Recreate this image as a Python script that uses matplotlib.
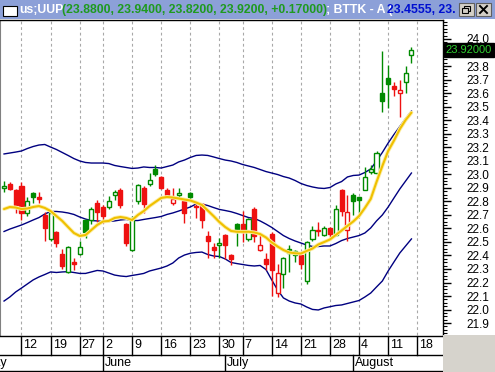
import numpy as np
import pandas as pd
import matplotlib
matplotlib.use('Agg')
import matplotlib.pyplot as plt
from matplotlib.patches import Rectangle
from matplotlib.ticker import FormatStrFormatter
from matplotlib.transforms import blended_transform_factory

plt.rcParams['font.family'] = ['Liberation Sans', 'DejaVu Sans']

# ---------------- data ----------------
symbol = "us;UUP"
indicator_name = "BTTK - A"
holidays = ['2008-05-26', '2008-07-04']
axis_start, axis_end = '2008-05-01', '2008-08-22'
data_start = '2008-05-07'

opens = [22.90, 22.93, 22.88, 22.91, 22.71, 22.86, 22.83, 22.70, 22.52, 22.57,
         22.41, 22.28, 22.35, 22.41, 22.66, 22.66, 22.79, 22.76, 22.76, 22.85,
         22.88, 22.63, 22.44, 22.80, 22.90, 22.93, 23.04, 22.98, 22.88, 22.79,
         22.85, 22.80, 22.86, 22.765, 22.78, 22.54, 22.46, 22.48, 22.55, 22.40,
         22.63, 22.63, 22.52, 22.74, 22.44, 22.37, 22.56, 22.12, 22.26, 22.45,
         22.40, 22.40, 22.21, 22.52, 22.585, 22.55, 22.60, 22.55, 22.88, 22.59,
         22.85, 22.83, 22.88, 23.02, 23.01, 23.60, 23.71, 23.65, 23.60, 23.68, 23.88]
highs = [22.95, 22.94, 22.89, 22.94, 22.83, 22.87, 22.87, 22.72, 22.72, 22.58,
         22.45, 22.47, 22.38, 22.51, 22.67, 22.76, 22.81, 22.77, 22.84, 22.88,
         22.90, 22.64, 22.69, 22.93, 22.91, 23.01, 23.07, 22.99, 22.90, 22.90,
         22.90, 22.82, 22.87, 22.79, 22.79, 22.58, 22.49, 22.53, 22.56, 22.41,
         22.64, 22.73, 22.68, 22.76, 22.56, 22.42, 22.57, 22.34, 22.39, 22.48,
         22.44, 22.41, 22.51, 22.62, 22.65, 22.62, 22.61, 22.77, 22.89, 22.85,
         22.86, 22.83, 23.05, 23.07, 23.17, 23.91, 23.81, 23.68, 23.70, 23.80, 23.94]
lows = [22.87, 22.88, 22.71, 22.66, 22.69, 22.79, 22.79, 22.51, 22.51, 22.46,
        22.30, 22.27, 22.29, 22.40, 22.53, 22.63, 22.65, 22.64, 22.74, 22.81,
        22.75, 22.47, 22.43, 22.78, 22.71, 22.91, 22.99, 22.89, 22.84, 22.77,
        22.83, 22.64, 22.80, 22.68, 22.60, 22.38, 22.38, 22.38, 22.37, 22.33,
        22.47, 22.50, 22.51, 22.50, 22.43, 22.29, 22.10, 22.09, 22.16, 22.28,
        22.35, 22.30, 22.19, 22.51, 22.54, 22.54, 22.53, 22.54, 22.69, 22.51,
        22.70, 22.71, 22.88, 23.00, 23.00, 23.46, 23.49, 23.58, 23.42, 23.60, 23.82]
closes = [22.91, 22.89, 22.77, 22.71, 22.80, 22.83, 22.82, 22.60, 22.71, 22.49,
          22.32, 22.46, 22.34, 22.46, 22.57, 22.74, 22.72, 22.69, 22.80, 22.87,
          22.77, 22.49, 22.67, 22.92, 22.78, 22.96, 23.00, 22.90, 22.85, 22.82,
          22.86, 22.71, 22.83, 22.76, 22.66, 22.51, 22.44, 22.49, 22.48, 22.37,
          22.59, 22.57, 22.67, 22.54, 22.48, 22.34, 22.29, 22.27, 22.38, 22.42,
          22.43, 22.34, 22.50, 22.59, 22.58, 22.60, 22.56, 22.74, 22.73, 22.72,
          22.80, 22.81, 22.98, 23.04, 23.16, 23.54, 23.67, 23.63, 23.62, 23.75, 23.92]

bttk_a = [22.743, 22.758, 22.754, 22.743, 22.747, 22.758, 22.765, 22.751, 22.728, 22.691,
          22.655, 22.610, 22.566, 22.544, 22.551, 22.588, 22.625, 22.651, 22.655, 22.677,
          22.684, 22.677, 22.662, 22.699, 22.728, 22.765, 22.795, 22.825, 22.832, 22.828,
          22.821, 22.813, 22.806, 22.791, 22.773, 22.732, 22.691, 22.647, 22.610, 22.581,
          22.575, 22.575, 22.575, 22.570, 22.558, 22.533, 22.496, 22.466, 22.440, 22.422,
          22.416, 22.414, 22.433, 22.451, 22.481, 22.499, 22.518, 22.551, 22.584, 22.618,
          22.651, 22.691, 22.751, 22.817, 22.943, 23.061, 23.172, 23.249, 23.334, 23.401, 23.4555]
band_upper = [23.150, 23.157, 23.164, 23.172, 23.190, 23.205, 23.216, 23.220, 23.201, 23.183,
              23.161, 23.139, 23.116, 23.098, 23.087, 23.083, 23.083, 23.083, 23.079, 23.065,
              23.057, 23.050, 23.043, 23.046, 23.054, 23.050, 23.050, 23.046, 23.057, 23.068,
              23.091, 23.105, 23.124, 23.139, 23.142, 23.139, 23.128, 23.116, 23.105, 23.098,
              23.087, 23.072, 23.061, 23.050, 23.035, 23.020, 23.009, 22.998, 22.983, 22.972,
              22.954, 22.932, 22.917, 22.906, 22.898, 22.895, 22.902, 22.928, 22.946, 22.980,
              22.991, 22.994, 23.013, 23.039, 23.098, 23.161, 23.231, 23.294, 23.353, 23.412, 23.467]
band_middle = [22.577, 22.595, 22.610, 22.625, 22.643, 22.662, 22.680, 22.706, 22.725, 22.725,
               22.721, 22.714, 22.703, 22.684, 22.669, 22.658, 22.655, 22.651, 22.651, 22.655,
               22.662, 22.666, 22.658, 22.658, 22.666, 22.673, 22.680, 22.688, 22.703, 22.714,
               22.728, 22.743, 22.758, 22.780, 22.780, 22.769, 22.754, 22.740, 22.732, 22.723,
               22.710, 22.695, 22.680, 22.673, 22.655, 22.632, 22.607, 22.577, 22.547, 22.525,
               22.507, 22.492, 22.477, 22.466, 22.466, 22.470, 22.470, 22.488, 22.510, 22.525,
               22.536, 22.547, 22.566, 22.603, 22.655, 22.699, 22.758, 22.825, 22.891, 22.950, 23.009]
band_lower = [22.063, 22.093, 22.130, 22.159, 22.189, 22.219, 22.241, 22.259, 22.278, 22.274,
              22.278, 22.280, 22.274, 22.267, 22.267, 22.278, 22.289, 22.285, 22.270, 22.255,
              22.248, 22.244, 22.252, 22.259, 22.267, 22.285, 22.296, 22.307, 22.322, 22.344,
              22.381, 22.403, 22.416, 22.422, 22.425, 22.407, 22.396, 22.392, 22.374, 22.348,
              22.340, 22.333, 22.326, 22.322, 22.326, 22.296, 22.219, 22.145, 22.086, 22.063,
              22.049, 22.041, 22.019, 22.001, 21.997, 22.012, 22.021, 22.030, 22.034, 22.045,
              22.056, 22.067, 22.093, 22.122, 22.167, 22.211, 22.285, 22.352, 22.418, 22.470, 22.522]

price_ticks = [21.9, 22.0, 22.1, 22.2, 22.3, 22.4, 22.5, 22.6, 22.7, 22.8, 22.9,
               23.0, 23.1, 23.2, 23.3, 23.4, 23.5, 23.6, 23.7, 23.8, 23.9, 24.0]

# ---------------- dates ----------------
axis_days = pd.bdate_range(axis_start, axis_end)
axis_days = axis_days[~axis_days.isin(pd.to_datetime(holidays))]
d0 = int(np.where(axis_days == pd.Timestamp(data_start))[0][0])
n = len(closes)
xs = d0 + np.arange(n)
week_starts = [i for i in range(1, len(axis_days))
               if axis_days[i].weekday() < axis_days[i - 1].weekday()]
month_starts = [0] + [i for i in range(1, len(axis_days))
                      if axis_days[i].month != axis_days[i - 1].month]

# ---------------- figure / layout ----------------
W, H = 495, 372
fig = plt.figure(figsize=(W / 100, H / 100), dpi=100)
fig.patch.set_facecolor('white')

PLOT_R, PLOT_T, PLOT_B = 443, 20, 335
ax = fig.add_axes([0, 1 - PLOT_B / H, PLOT_R / W, (PLOT_B - PLOT_T) / H])
px_per_day = 5.82
ref_day = week_starts[1]                 # May 12 sits at pixel x = 21.5
xl = ref_day - 21.5 / px_per_day
xr = ref_day + (PLOT_R - 21.5) / px_per_day
ax.set_xlim(xl, xr)
ax.set_ylim(21.812, 24.140)

# weekly dashed grid
for w in week_starts:
    ax.axvline(w, color='#a8a8a8', lw=0.8, ls=(0, (2.5, 2.5)), zorder=1)

# bands
for band in (band_upper, band_middle, band_lower):
    ax.plot(xs, band, color='#000080', lw=1.0, zorder=2)

# candles
GREEN, RED = '#008a00', '#ee1111'
bw = 0.7
for i in range(n):
    o, h, l, c = opens[i], highs[i], lows[i], closes[i]
    prev = closes[i - 1] if i > 0 else c
    col = GREEN if c >= prev else RED
    filled = c < o
    top, bot = max(o, c), min(o, c)
    ax.vlines(xs[i], l, h, color=col, lw=1.0, zorder=3)
    ax.add_patch(Rectangle((xs[i] - bw / 2, bot), bw, max(top - bot, 0.002),
                           facecolor=col if filled else 'white', edgecolor=col,
                           lw=1.0, zorder=4))

# yellow indicator
ax.plot(xs, bttk_a, color='#fcefa8', lw=2.8, zorder=5, solid_capstyle='round')
ax.plot(xs, bttk_a, color='#f0c000', lw=1.5, zorder=6, solid_capstyle='round')

# right price axis
ax.yaxis.tick_right()
ax.set_yticks(price_ticks)
ax.set_yticks(np.arange(21.825, 24.14, 0.025), minor=True)
ax.yaxis.set_major_formatter(FormatStrFormatter('%.1f'))
ax.tick_params(axis='y', which='major', direction='out', length=6, width=1,
               labelsize=8.5, pad=11, colors='black')
ax.tick_params(axis='y', which='minor', direction='out', length=3, width=0.8)
ax.set_xticks([])
for s in ('top', 'right'):
    ax.spines[s].set_color('black')
    ax.spines[s].set_linewidth(1.0)
ax.spines['bottom'].set_visible(False)
ax.spines['left'].set_color('#808080')

# last price box
tr = blended_transform_factory(ax.transAxes, ax.transData)
ax.text(1.006, closes[-1], f"{closes[-1]:.5f}", transform=tr, ha='left', va='center',
        fontsize=8, color='#30d030', clip_on=False, zorder=10,
        bbox=dict(boxstyle='square,pad=0.18', facecolor='black', edgecolor='black'))

# ---------------- date axis ----------------
ax2 = fig.add_axes([0, 0, PLOT_R / W, (H - PLOT_B) / H])
ax2.set_xlim(xl, xr)
ax2.set_ylim(H, PLOT_B)
ax2.axis('off')
ROW1_T, ROW1_B, ROW2_B = 335.5, 354.5, 370.5
for yy in (ROW1_T, ROW1_B, ROW2_B):
    ax2.plot([xl, xr], [yy, yy], color='black', lw=1.0, clip_on=True)
for w in week_starts:
    ax2.plot([w, w], [ROW1_T, ROW1_B], color='black', lw=1.0)
    if w > xl:
        ax2.text(w + 0.35, (ROW1_T + ROW1_B) / 2 + 0.5, str(axis_days[w].day), fontsize=9,
                 ha='left', va='center', clip_on=True)
for m in month_starts:
    ax2.plot([m, m], [ROW1_B, ROW2_B], color='black', lw=1.0)
    ax2.text(m + 0.35, (ROW1_B + ROW2_B) / 2 + 0.5, axis_days[m].strftime('%B'), fontsize=9,
             ha='left', va='center', clip_on=True)

# grey corner area
fig.patches.append(Rectangle((PLOT_R / W, 0), 1 - PLOT_R / W, (H - PLOT_B) / H,
                             transform=fig.transFigure, facecolor='#d6d3cc',
                             edgecolor='none', zorder=0))

# ---------------- title bar ----------------
axt = fig.add_axes([0, 1 - 19 / H, 1, 19 / H])
axt.set_xlim(0, W)
axt.set_ylim(19, 0)
axt.axis('off')
axt.add_patch(Rectangle((0, 0), W, 19, facecolor='#8ca0d8', edgecolor='none'))
axt.add_patch(Rectangle((3, 6), 14, 10, facecolor='white', edgecolor='black', lw=0.8))
TFS = 8.8
axt.text(19, 10, symbol, color='white', fontsize=TFS, fontweight='bold', ha='left', va='center')
ohlc_txt = f"({opens[-1]:.4f}, {highs[-1]:.4f}, {lows[-1]:.4f}, {closes[-1]:.4f}, {closes[-1] - closes[-2]:+.5f})"
axt.text(62, 10, ohlc_txt, color='#1f9a1f', fontsize=TFS, fontweight='bold', ha='left', va='center')
axt.text(326, 10, f"; {indicator_name} (", color='white', fontsize=TFS, fontweight='bold',
         ha='left', va='center')
axt.text(387, 10, f"{bttk_a[-1]:.4f}, 23.", color='#0010d0', fontsize=TFS, fontweight='bold',
         ha='left', va='center', clip_on=True)
# window buttons
for bx in (459, 476):
    axt.add_patch(Rectangle((bx, 3), 15, 13, facecolor='#d4d0c8', edgecolor='#606060', lw=0.8,
                            zorder=5))
axt.add_patch(Rectangle((464, 6), 6, 5, facecolor='none', edgecolor='black', lw=0.8, zorder=6))
axt.add_patch(Rectangle((462, 8), 6, 5, facecolor='#d4d0c8', edgecolor='black', lw=0.8, zorder=7))
axt.plot([480, 487], [6, 13], color='black', lw=1.4, zorder=6)
axt.plot([480, 487], [13, 6], color='black', lw=1.4, zorder=6)

fig.savefig('out.png', dpi=100)
